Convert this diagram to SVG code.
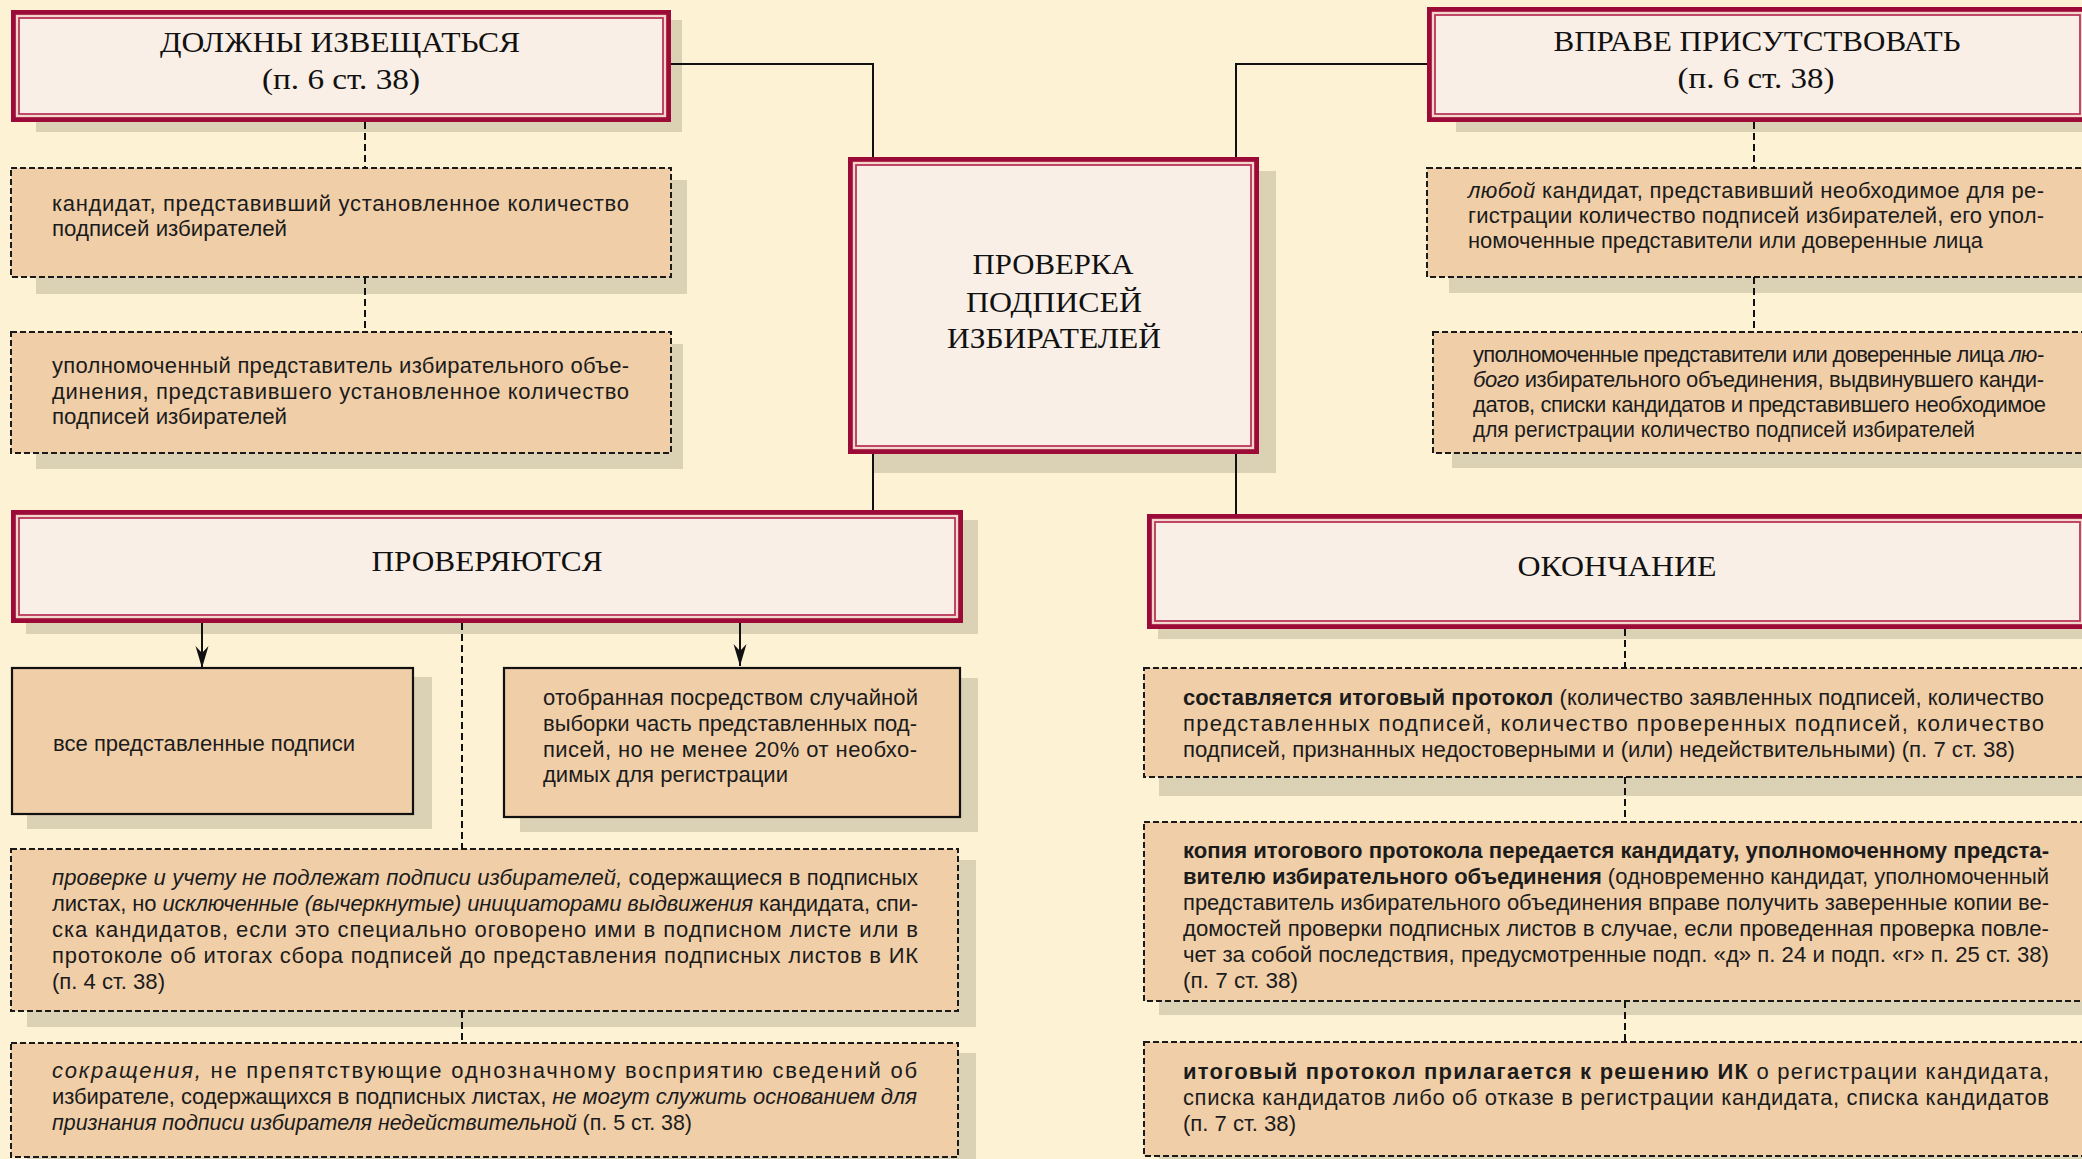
<svg xmlns="http://www.w3.org/2000/svg" width="2082" height="1159" viewBox="0 0 2082 1159">
<defs>
<style>
.bg{fill:#fef2d4}
.sh{fill:#dbd1b5}
.hf{fill:#f9efe6;stroke:#9c0a38;stroke-width:5}
.hg{fill:none;stroke:#f3d4c9;stroke-width:2}
.hi{fill:none;stroke:#b8365a;stroke-width:1.8}
.db{fill:#f0cea8;stroke:#1a1a1a;stroke-width:2;stroke-dasharray:6 3}
.sb{fill:#f0cea8;stroke:#111;stroke-width:2.2}
.c{fill:none;stroke:#111;stroke-width:2}
.cd{fill:none;stroke:#111;stroke-width:2;stroke-dasharray:7 4}
.t{font-family:"Liberation Sans",Arial,sans-serif;font-size:22px;fill:#1b1b1b}
.h{font-family:"Liberation Serif","Times New Roman",serif;font-size:30px;fill:#111;text-anchor:middle}
.i{font-style:italic}
.b{font-weight:bold}
</style>
<marker id="arr" markerUnits="userSpaceOnUse" markerWidth="24" markerHeight="14" refX="22" refY="6.5" orient="auto">
<path d="M0,0 L22,6.5 L0,13 L7,6.5 Z" fill="#111"/>
</marker>
</defs>
<rect class="bg" x="0" y="0" width="2082" height="1159"/>

<g id="h-notify">
<rect class="sh" x="36" y="20" width="646" height="112"/>
<rect class="hf" x="13.5" y="12.5" width="655" height="107"/>
<rect class="hg" x="16.8" y="15.8" width="648.4" height="100.4"/>
<rect class="hi" x="19" y="18" width="644" height="96"/>
<text class="h" x="340" y="52" textLength="360" lengthAdjust="spacingAndGlyphs">ДОЛЖНЫ ИЗВЕЩАТЬСЯ</text>
<text class="h" x="341" y="89" textLength="158" lengthAdjust="spacingAndGlyphs">(п. 6 ст. 38)</text>
</g>

<g id="n-candidate">
<rect class="sh" x="36" y="180" width="651" height="114"/>
<rect class="db" x="11" y="168" width="660" height="109"/>
<text class="t" x="52" y="211" textLength="577" lengthAdjust="spacing">кандидат, представивший установленное количество</text>
<text class="t" x="52" y="236" textLength="235" lengthAdjust="spacingAndGlyphs">подписей избирателей</text>
</g>

<g id="n-representative">
<rect class="sh" x="36" y="344" width="647" height="125"/>
<rect class="db" x="11" y="332" width="660" height="121"/>
<text class="t" x="52" y="373" textLength="577" lengthAdjust="spacing">уполномоченный представитель избирательного объе-</text>
<text class="t" x="52" y="399" textLength="577" lengthAdjust="spacing">динения, представившего установленное количество</text>
<text class="t" x="52" y="424" textLength="235" lengthAdjust="spacingAndGlyphs">подписей избирателей</text>
</g>

<g id="n-center">
<rect class="sh" x="873" y="171" width="403" height="302"/>
<rect class="hf" x="850.5" y="159.5" width="406" height="292"/>
<rect class="hg" x="853.8" y="162.8" width="399.4" height="285.4"/>
<rect class="hi" x="856" y="165" width="395" height="281"/>
<text class="h" x="1053" y="274" textLength="161" lengthAdjust="spacingAndGlyphs">ПРОВЕРКА</text>
<text class="h" x="1054" y="312" textLength="176" lengthAdjust="spacingAndGlyphs">ПОДПИСЕЙ</text>
<text class="h" x="1054" y="348" textLength="214" lengthAdjust="spacingAndGlyphs">ИЗБИРАТЕЛЕЙ</text>
</g>

<g id="h-present">
<rect class="sh" x="1456" y="20" width="700" height="112"/>
<rect class="hf" x="1429.5" y="9.5" width="656" height="110"/>
<rect class="hg" x="1432.8" y="12.8" width="649.4" height="103.4"/>
<rect class="hi" x="1435" y="15" width="645" height="99"/>
<text class="h" x="1757" y="51" textLength="407" lengthAdjust="spacingAndGlyphs">ВПРАВЕ ПРИСУТСТВОВАТЬ</text>
<text class="h" x="1756" y="88" textLength="157" lengthAdjust="spacingAndGlyphs">(п. 6 ст. 38)</text>
</g>

<g id="n-any-candidate">
<rect class="sh" x="1449" y="180" width="700" height="113"/>
<rect class="db" x="1427" y="168" width="670" height="109"/>
<text class="t" x="1468" y="198" textLength="576" lengthAdjust="spacing"><tspan class="i">любой</tspan> кандидат, представивший необходимое для ре-</text>
<text class="t" x="1468" y="223" textLength="576" lengthAdjust="spacing">гистрации количество подписей избирателей, его упол-</text>
<text class="t" x="1468" y="248" textLength="515" lengthAdjust="spacingAndGlyphs">номоченные представители или доверенные лица</text>
</g>

<g id="n-any-association">
<rect class="sh" x="1452" y="344" width="700" height="124"/>
<rect class="db" x="1433" y="332" width="664" height="121"/>
<text class="t" x="1473" y="362" textLength="571" lengthAdjust="spacing">уполномоченные представители или доверенные лица <tspan class="i">лю-</tspan></text>
<text class="t" x="1473" y="387" textLength="571" lengthAdjust="spacing"><tspan class="i">бого</tspan> избирательного объединения, выдвинувшего канди-</text>
<text class="t" x="1473" y="412" textLength="573" lengthAdjust="spacing">датов, списки кандидатов и представившего необходимое</text>
<text class="t" x="1473" y="437" textLength="502" lengthAdjust="spacingAndGlyphs">для регистрации количество подписей избирателей</text>
</g>

<g id="h-checked">
<rect class="sh" x="26" y="520" width="952" height="114"/>
<rect class="hf" x="13.5" y="512.5" width="947" height="108"/>
<rect class="hg" x="16.8" y="515.8" width="940.4" height="101.4"/>
<rect class="hi" x="19" y="518" width="936" height="97"/>
<text class="h" x="487" y="571" textLength="231" lengthAdjust="spacingAndGlyphs">ПРОВЕРЯЮТСЯ</text>
</g>

<g id="n-all">
<rect class="sh" x="27" y="677" width="405" height="152"/>
<rect class="sb" x="12" y="668" width="401" height="146"/>
<text class="t" x="53" y="751" textLength="302" lengthAdjust="spacingAndGlyphs">все представленные подписи</text>
</g>

<g id="n-sample">
<rect class="sh" x="520" y="678" width="458" height="154"/>
<rect class="sb" x="504" y="668" width="456" height="149"/>
<text class="t" x="543" y="705" textLength="375" lengthAdjust="spacing">отобранная посредством случайной</text>
<text class="t" x="543" y="731" textLength="374" lengthAdjust="spacing">выборки часть представленных под-</text>
<text class="t" x="543" y="757" textLength="374" lengthAdjust="spacing">писей, но не менее 20% от необхо-</text>
<text class="t" x="543" y="782" textLength="245" lengthAdjust="spacingAndGlyphs">димых для регистрации</text>
</g>

<g id="n-excluded">
<rect class="sh" x="27" y="860" width="949" height="167"/>
<rect class="db" x="11" y="849" width="947" height="162"/>
<text class="t" x="52" y="885" textLength="866" lengthAdjust="spacing"><tspan class="i">проверке и учету не подлежат подписи избирателей,</tspan> содержащиеся в подписных</text>
<text class="t" x="52" y="911" textLength="866" lengthAdjust="spacing">листах, но <tspan class="i">исключенные (вычеркнутые) инициаторами выдвижения</tspan> кандидата, спи-</text>
<text class="t" x="52" y="937" textLength="866" lengthAdjust="spacing">ска кандидатов, если это специально оговорено ими в подписном листе или в</text>
<text class="t" x="52" y="963" textLength="866" lengthAdjust="spacing">протоколе об итогах сбора подписей до представления подписных листов в ИК</text>
<text class="t" x="52" y="989" textLength="113" lengthAdjust="spacingAndGlyphs">(п. 4 ст. 38)</text>
</g>

<g id="n-abbrev">
<rect class="sh" x="27" y="1053" width="949" height="120"/>
<rect class="db" x="11" y="1043" width="947" height="114"/>
<text class="t" x="52" y="1078" textLength="865" lengthAdjust="spacing"><tspan class="i">сокращения,</tspan> не препятствующие однозначному восприятию сведений об</text>
<text class="t" x="52" y="1104" textLength="865" lengthAdjust="spacing">избирателе, содержащихся в подписных листах, <tspan class="i">не могут служить основанием для</tspan></text>
<text class="t" x="52" y="1130" textLength="640" lengthAdjust="spacingAndGlyphs"><tspan class="i">признания подписи избирателя недействительной</tspan> (п. 5 ст. 38)</text>
</g>

<g id="h-end">
<rect class="sh" x="1158" y="525" width="940" height="114"/>
<rect class="hf" x="1149.5" y="516.5" width="936" height="110"/>
<rect class="hg" x="1152.8" y="519.8" width="929.4" height="103.4"/>
<rect class="hi" x="1155" y="522" width="925" height="99"/>
<text class="h" x="1617" y="576" textLength="199" lengthAdjust="spacingAndGlyphs">ОКОНЧАНИЕ</text>
</g>

<g id="n-protocol">
<rect class="sh" x="1159" y="680" width="940" height="116"/>
<rect class="db" x="1144" y="668" width="950" height="109"/>
<text class="t" x="1183" y="705" textLength="861" lengthAdjust="spacing"><tspan class="b">составляется итоговый протокол</tspan> (количество заявленных подписей, количество</text>
<text class="t" x="1183" y="731" textLength="861" lengthAdjust="spacing">представленных подписей, количество проверенных подписей, количество</text>
<text class="t" x="1183" y="757" textLength="832" lengthAdjust="spacingAndGlyphs">подписей, признанных недостоверными и (или) недействительными) (п. 7 ст. 38)</text>
</g>

<g id="n-copy">
<rect class="sh" x="1159" y="835" width="940" height="180"/>
<rect class="db" x="1144" y="822" width="950" height="179"/>
<text class="t" x="1183" y="858" textLength="866" lengthAdjust="spacingAndGlyphs"><tspan class="b">копия итогового протокола передается кандидату, уполномоченному предста-</tspan></text>
<text class="t" x="1183" y="884" textLength="866" lengthAdjust="spacing"><tspan class="b">вителю избирательного объединения</tspan> (одновременно кандидат, уполномоченный</text>
<text class="t" x="1183" y="910" textLength="866" lengthAdjust="spacingAndGlyphs">представитель избирательного объединения вправе получить заверенные копии ве-</text>
<text class="t" x="1183" y="936" textLength="866" lengthAdjust="spacingAndGlyphs">домостей проверки подписных листов в случае, если проведенная проверка повле-</text>
<text class="t" x="1183" y="962" textLength="866" lengthAdjust="spacingAndGlyphs">чет за собой последствия, предусмотренные подп. «д» п. 24 и подп. «г» п. 25 ст. 38)</text>
<text class="t" x="1183" y="988" textLength="115" lengthAdjust="spacingAndGlyphs">(п. 7 ст. 38)</text>
</g>

<g id="n-attached">
<rect class="sh" x="1159" y="1054" width="940" height="120"/>
<rect class="db" x="1144" y="1042" width="950" height="114"/>
<text class="t" x="1183" y="1079" textLength="866" lengthAdjust="spacing"><tspan class="b">итоговый протокол прилагается к решению ИК</tspan> о регистрации кандидата,</text>
<text class="t" x="1183" y="1105" textLength="866" lengthAdjust="spacing">списка кандидатов либо об отказе в регистрации кандидата, списка кандидатов</text>
<text class="t" x="1183" y="1131" textLength="113" lengthAdjust="spacingAndGlyphs">(п. 7 ст. 38)</text>
</g>

<g id="connectors">
<polyline class="c" points="671,64 873,64 873,157"/>
<polyline class="c" points="1427,64 1236,64 1236,157"/>
<line class="c" x1="873" y1="454" x2="873" y2="510"/>
<line class="c" x1="1236" y1="454" x2="1236" y2="514"/>
<line class="c" x1="202" y1="623" x2="202" y2="668" marker-end="url(#arr)"/>
<line class="c" x1="740" y1="623" x2="740" y2="666" marker-end="url(#arr)"/>
<line class="cd" x1="365" y1="122" x2="365" y2="168"/>
<line class="cd" x1="365" y1="277" x2="365" y2="332"/>
<line class="cd" x1="1754" y1="122" x2="1754" y2="168"/>
<line class="cd" x1="1754" y1="277" x2="1754" y2="332"/>
<line class="cd" x1="462" y1="623" x2="462" y2="849"/>
<line class="cd" x1="462" y1="1011" x2="462" y2="1043"/>
<line class="cd" x1="1625" y1="629" x2="1625" y2="668"/>
<line class="cd" x1="1625" y1="777" x2="1625" y2="822"/>
<line class="cd" x1="1625" y1="1001" x2="1625" y2="1042"/>
</g>
</svg>
